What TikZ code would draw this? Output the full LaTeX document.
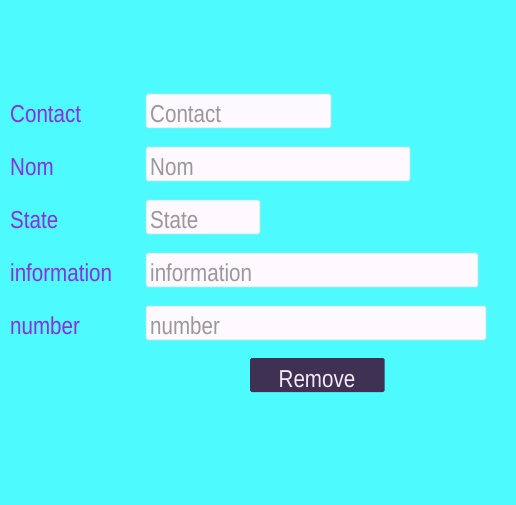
\documentclass[tikz,border=0pt]{standalone}
\usepackage{fontspec}
\setmainfont{Liberation Sans}[FakeStretch=0.84]
\usepackage{xcolor}
\usepackage{tikz}
\usetikzlibrary{positioning}
\definecolor{bgcyan}{HTML}{4DFBFF}
\definecolor{lblpurple}{HTML}{8E2DDC}
\definecolor{fieldfill}{HTML}{FDF9FF}
\definecolor{fieldline}{HTML}{A8E6EA}
\definecolor{hintgrey}{HTML}{999999}
\definecolor{btnfill}{HTML}{3E3153}
\definecolor{btntext}{HTML}{F6E8F6}
\tikzset{
  lbl/.style = {anchor=base west, inner sep=0pt, text=lblpurple, font=\fontsize{24.5}{27}\selectfont},
  field/.style = {draw=fieldline, fill=fieldfill, rounded corners=1.5pt, line width=0.8pt},
  hint/.style = {anchor=base west, inner sep=0pt, text=hintgrey, font=\fontsize{24.5}{27}\selectfont},
  btn/.style = {fill=btnfill, rounded corners=1.5pt},
  btnlabel/.style = {anchor=base, inner sep=0pt, text=btntext, font=\fontsize{24.5}{27}\selectfont}
}
\begin{document}
\begin{tikzpicture}[x=1pt,y=-1pt]
	\fill[bgcyan] (0,0) rectangle (516,505);
	\useasboundingbox (0,0) rectangle (516,505);
	% labels
	\node [lbl] (contact) at (10,122.5) {Contact};
	\node [lbl] (nom) at (10,175.5) {Nom};
	\node [lbl] (state) at (10,228.5) {State};
	\node [lbl] (info) at (10,281.5) {information};
	\node [lbl] (number) at (10,334.5) {number};
	% fields
	\draw [field] (146,94) rectangle (331,128);
	\draw [field] (146,147) rectangle (410,181);
	\draw [field] (146,200) rectangle (260,234);
	\draw [field] (146,253) rectangle (478,287);
	\draw [field] (146,306) rectangle (486,340);
	\node [hint] (contact-hint) at (150,122.5) {Contact};
	\node [hint] (nom-hint) at (150,175.5) {Nom};
	\node [hint] (state-hint) at (150,228.5) {State};
	\node [hint] (info-hint) at (150,281.5) {information};
	\node [hint] (number-hint) at (150,334.5) {number};
	% button
	\fill [btn] (250,358) rectangle (384.5,392);
	\node [btnlabel] (remove) at (317,387.5) {Remove};
\end{tikzpicture}
\end{document}
